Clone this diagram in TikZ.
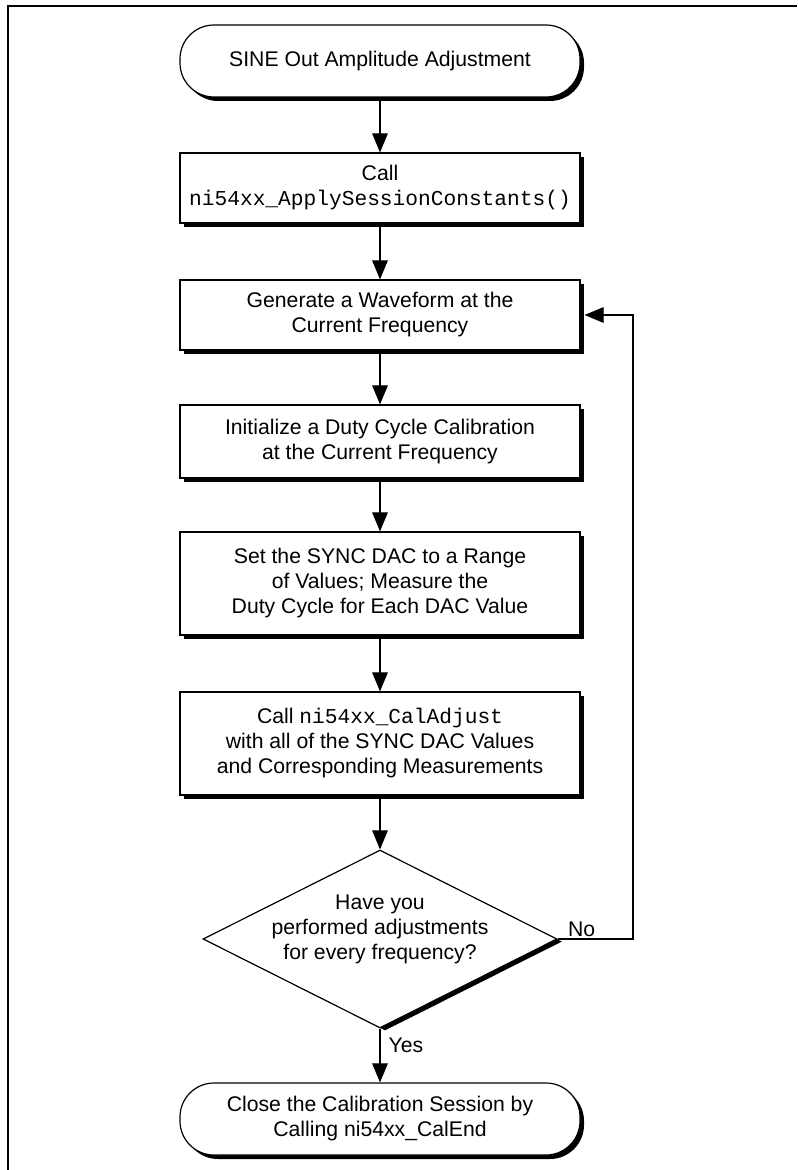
\documentclass[tikz,border=0pt]{standalone}
\usepackage{fontspec}
\setmainfont{Liberation Sans}
\setmonofont{Liberation Mono}
\usetikzlibrary{arrows.meta,shapes.geometric,shadows}
\tikzset {>={Triangle[length=9.5pt,width=7.8pt]}}
\tikzset{
  boxfont/.style={font=\fontsize{10.6pt}{12.5pt}\selectfont},
  plainbox/.style={draw, line width=0.6pt, fill=white, align=center, boxfont},
  flowbox/.style={plainbox, minimum width=200pt, inner sep=2pt,
    drop shadow={shadow xshift=2pt, shadow yshift=-2pt, opacity=1, fill=black}},
  termbox/.style={flowbox, rounded corners=17pt},
  testbox/.style={plainbox, diamond, shape aspect=2, minimum width=177pt,
    minimum height=89pt, inner sep=0pt,
    drop shadow={shadow xshift=2.5pt, shadow yshift=-1.3pt, opacity=1, fill=black}},
  testtext/.style={boxfont, align=center, inner sep=0pt, yshift=5pt},
  flow/.style={->, line width=0.55pt},
  lbl/.style={boxfont, inner sep=0pt},
}

\begin{document}
\begin{tikzpicture}[x=0.5pt,y=-0.5pt]
\useasboundingbox (0,0) rectangle (797,1170);
\draw[line width=1.2pt] (8,1170) -- (8,6) -- (797,6);

\node[termbox, minimum height=36pt] (start) at (380,61) {SINE Out Amplitude Adjustment};
\node[flowbox, minimum height=35pt] (apply) at (380,188) {Call\\\texttt{ni54xx\_ApplySessionConstants()}};
\node[flowbox, minimum height=35pt] (gen) at (380,315) {Generate a Waveform at the\\Current Frequency};
\node[flowbox, minimum height=36.5pt] (init) at (380,441.5) {Initialize a Duty Cycle Calibration\\at the Current Frequency};
\node[flowbox, minimum height=51.5pt] (sweep) at (380,583.5) {Set the SYNC DAC to a Range\\of Values; Measure the\\Duty Cycle for Each DAC Value};
\node[flowbox, minimum height=51.5pt] (adjust) at (380,743.5) {Call \texttt{ni54xx\_CalAdjust}\\with all of the SYNC DAC Values\\and Corresponding Measurements};
\node[testbox, label={[testtext]center:{Have you\\performed adjustments\\for every frequency?}}] (done) at (380,939) {};
\node[termbox, minimum height=36pt] (close) at (380,1119) {Close the Calibration Session by\\Calling ni54xx\_CalEnd};
\coordinate (loop) at (633,939);

\draw[flow] (start) -- (apply);
\draw[flow] (apply) -- (gen);
\draw[flow] (gen) -- (init);
\draw[flow] (init) -- (sweep);
\draw[flow] (sweep) -- (adjust);
\draw[flow] (adjust) -- (done);
\draw[flow] (done) -- node[lbl, pos=0, anchor=north west, xshift=4pt, yshift=-4.5pt] {Yes} (close);
\draw[flow] (done.east) -- node[lbl, pos=0, anchor=south west, xshift=5pt, yshift=1pt] {No} (loop) |- ([xshift=2pt]gen.east);
\end{tikzpicture}
\end{document}
